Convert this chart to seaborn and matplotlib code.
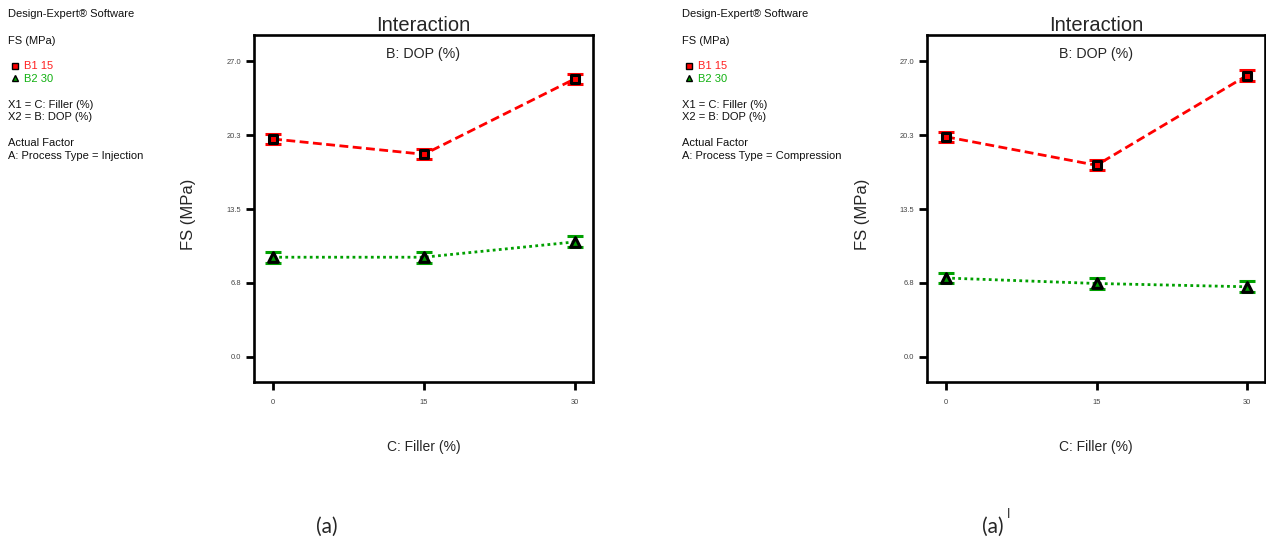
import matplotlib
matplotlib.use("Agg")
import matplotlib.pyplot as plt
import seaborn as sns
import pandas as pd

sns.set_theme(style="white")
plt.rcParams["font.family"] = ["Liberation Sans", "DejaVu Sans"]

# Factor levels and responses
filler = [0, 15, 30]
dop_levels = ["B1 15", "B2 30"]

fs_injection_b1 = [19.9, 18.5, 25.4]
fs_injection_b2 = [9.1, 9.1, 10.5]
err_injection_b1 = [0.47, 0.47, 0.47]
err_injection_b2 = [0.5, 0.5, 0.5]

fs_compression_b1 = [20.1, 17.5, 25.7]
fs_compression_b2 = [7.2, 6.7, 6.4]
err_compression_b1 = [0.47, 0.47, 0.47]
err_compression_b2 = [0.5, 0.5, 0.5]

y_ticks = [0.0, 6.75, 13.5, 20.25, 27.0]
y_tick_labels = ["0.0", "6.8", "13.5", "20.3", "27.0"]
x_tick_labels = ["0", "15", "30"]

process_labels = ["A: Process Type = Injection", "A: Process Type = Compression"]
captions = ["(a)", "(a)"]

RED = "#ff0000"
GREEN = "#00a000"

W, H = 1266, 546
fig = plt.figure(figsize=(W / 100, H / 100), dpi=100)


def px_axes(x0, y0, x1, y1):
    return fig.add_axes([x0 / W, 1 - y1 / H, (x1 - x0) / W, (y1 - y0) / H])


def draw_panel(ax, b1, b2, e1, e2):
    df = pd.DataFrame({
        "Filler": filler * 2,
        "FS": b1 + b2,
        "DOP": [dop_levels[0]] * 3 + [dop_levels[1]] * 3,
    })
    sns.lineplot(data=df, x="Filler", y="FS", hue="DOP", style="DOP",
                 palette={dop_levels[0]: RED, dop_levels[1]: GREEN},
                 dashes={dop_levels[0]: (3.2, 1.6), dop_levels[1]: (1, 1.2)},
                 markers=False, linewidth=2, legend=False, ax=ax, zorder=2)
    for vals, errs, col, mk, ms in [(b1, e1, RED, "s", 5.6), (b2, e2, GREEN, "^", 7.0)]:
        ax.errorbar(filler, vals, yerr=errs, fmt="none", ecolor=col,
                    elinewidth=2, capsize=5.5, capthick=2.2, zorder=3)
        sns.scatterplot(x=filler, y=vals, marker=mk, s=ms ** 2, color=col,
                        edgecolor="black", linewidth=2.2, ax=ax, zorder=4,
                        legend=False)
    ax.set_xlim(-1.9, 31.8)
    ax.set_ylim(-2.3, 29.4)
    ax.set_xticks(filler)
    ax.set_xticklabels(x_tick_labels)
    ax.set_yticks(y_ticks)
    ax.set_yticklabels(y_tick_labels)
    ax.tick_params(axis="both", which="both", direction="out", length=6,
                   width=2, color="black", labelsize=5.4, labelcolor="#444444",
                   left=True, bottom=True, pad=3)
    ax.tick_params(axis="x", pad=6)
    for s in ax.spines.values():
        s.set_linewidth(1.9)
        s.set_color("black")
    ax.set_xlabel("")
    ax.set_ylabel("")
    ax.set_title("Interaction", fontsize=14.5, pad=2)
    ax.text(0.5, 0.965, "B: DOP (%)", transform=ax.transAxes, ha="center",
            va="top", fontsize=10.3)


def side_text(x, process):
    kw = dict(fontsize=8, va="center", ha="left", color="#111111")
    fig.text(x / W, 1 - 14 / H, "Design-Expert® Software", **kw)
    fig.text(x / W, 1 - 41 / H, "FS (MPa)", **kw)
    fig.text((x + 16) / W, 1 - 66 / H, dop_levels[0], fontsize=8, va="center",
             ha="left", color="#ff2020")
    fig.text((x + 16) / W, 1 - 79 / H, dop_levels[1], fontsize=8, va="center",
             ha="left", color="#10b010")
    fig.lines.append(plt.Line2D([(x + 6.5) / W], [1 - 65.5 / H], marker="s",
                                markersize=4, color=RED, markeredgecolor="black",
                                markeredgewidth=1, transform=fig.transFigure))
    fig.lines.append(plt.Line2D([(x + 6.5) / W], [1 - 78.5 / H], marker="^",
                                markersize=4.5, color=GREEN, markeredgecolor="black",
                                markeredgewidth=1, transform=fig.transFigure))
    fig.text(x / W, 1 - 105 / H, "X1 = C: Filler (%)", **kw)
    fig.text(x / W, 1 - 117 / H, "X2 = B: DOP (%)", **kw)
    fig.text(x / W, 1 - 143 / H, "Actual Factor", **kw)
    fig.text(x / W, 1 - 156 / H, process, **kw)


panels = [
    (254, 593, 8, 189, 424, 327, fs_injection_b1, fs_injection_b2,
     err_injection_b1, err_injection_b2, process_labels[0], captions[0], False),
    (927, 1265, 682, 862, 1096, 993, fs_compression_b1, fs_compression_b2,
     err_compression_b1, err_compression_b2, process_labels[1], captions[1], True),
]

for (x0, x1, tx, ylx, xlx, capx, b1, b2, e1, e2, proc, cap, prime) in panels:
    ax = px_axes(x0, 35, x1, 382)
    draw_panel(ax, b1, b2, e1, e2)
    side_text(tx, proc)
    fig.text(ylx / W, 1 - 214 / H, "FS (MPa)", rotation=90, fontsize=12,
             ha="center", va="center")
    fig.text(xlx / W, 1 - 447 / H, "C: Filler (%)", fontsize=10,
             ha="center", va="center")
    fig.text(capx / W, 1 - 527 / H, cap, fontsize=15, ha="center",
             va="center", family=["Lato", "DejaVu Sans"])
    if prime:
        fig.text((capx + 14) / W, 1 - 514 / H, "I", fontsize=9, ha="left",
                 va="center", family=["Lato", "DejaVu Sans"])

fig.savefig("out.png", dpi=100, facecolor="white")
